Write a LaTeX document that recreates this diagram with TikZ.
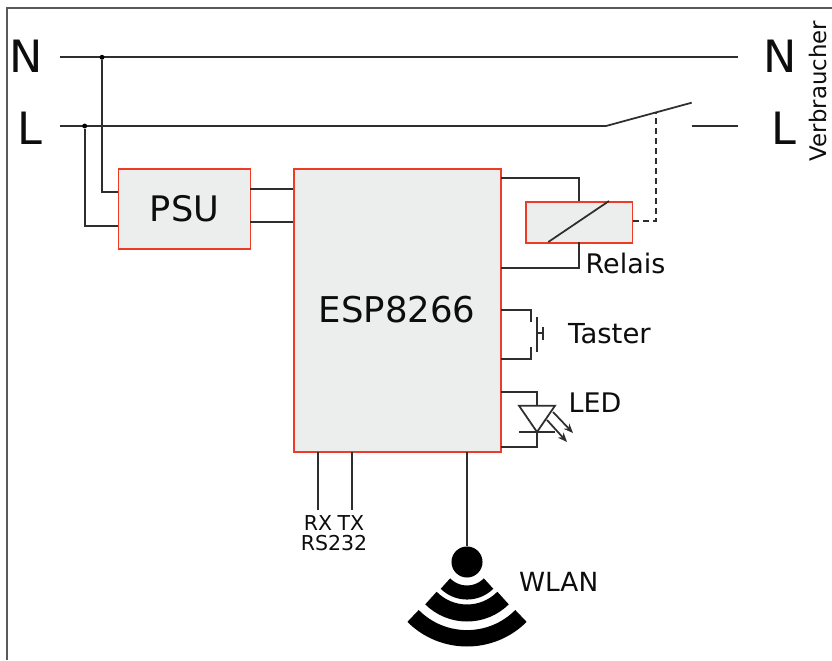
\documentclass[tikz,border=0pt]{standalone}
\usepackage{fontspec}
\setmainfont{DejaVu Sans}
\usetikzlibrary{arrows.meta}

\definecolor{blockred}{HTML}{EC3B26}
\definecolor{blockgray}{HTML}{ECEEEE}

\tikzset{
    block/.style={draw=blockred, fill=blockgray, line width=1.5pt, inner sep=0pt, anchor=north west},
    wire/.style={line width=1.5pt, black!82},
    lbl/.style={inner sep=0pt, text=black!95},
    wave/.style={line width=#1, black},
    dotnode/.style={circle, fill=black, inner sep=0pt, minimum size=4.2pt},
}

\begin{document}
\begin{tikzpicture}[x=0.03cm, y=0.03cm]
    \useasboundingbox (0,0) rectangle (832,660);
    % outer frame
    \draw[line width=1pt, black!65] (7,0) -- (7,652) -- (832,652);

    % mains
    \node[lbl, font=\fontsize{38}{38}\selectfont] (nleft) at (26,603.5) {N};
    \node[lbl, font=\fontsize{38}{38}\selectfont] (lleft) at (29.5,532) {L};
    \node[lbl, font=\fontsize{38}{38}\selectfont] (nright) at (780,603.5) {N};
    \node[lbl, font=\fontsize{38}{38}\selectfont] (lright) at (783.5,532) {L};
    \node[lbl, rotate=90, font=\fontsize{19.5}{19.5}\selectfont] (load) at (818,569) {Verbraucher};

    \coordinate (nstart) at (60,602.7);
    \coordinate (nend) at (738,602.7);
    \coordinate (lstart) at (60,534);
    \coordinate (swa) at (606,534);
    \coordinate (swb) at (691.7,557.3);
    \coordinate (swc) at (691.7,534);
    \coordinate (lend) at (738,534);
    \draw[wire] (nstart) -- (nend);
    \draw[wire] (lstart) -- (swa) -- (swb);
    \draw[wire] (swc) -- (lend);

    % blocks
    \node[block, minimum width=112.7pt, minimum height=68pt] (psu) at (117.7,491.7) {};
    \node[lbl, font=\fontsize{30}{30}\selectfont] (psutext) at (184.5,451.6) {PSU};
    \node[block, minimum width=176.8pt, minimum height=241.4pt] (esp) at (293.3,491.7) {};
    \node[lbl, font=\fontsize{30.3}{30.3}\selectfont] (esptext) at (397,350) {ESP8266};
    \node[block, minimum width=91pt, minimum height=35pt] (relay) at (525,459) {};

    % psu wiring
    \node[dotnode] (ndot) at (102,602.7) {};
    \node[dotnode] (ldot) at (84.7,534) {};
    \coordinate (psua) at (117.7,468.3);
    \coordinate (psub) at (117.7,434);
    \draw[wire] (ndot) |- (psua);
    \draw[wire] (ldot) |- (psub);
    \coordinate (pa) at (250.3,470.7);
    \coordinate (pb) at (293.3,470.7);
    \coordinate (pc) at (250.3,438.3);
    \coordinate (pd) at (293.3,438.3);
    \draw[wire] (pa) -- (pb);
    \draw[wire] (pc) -- (pd);

    % relay
    \coordinate (ra) at (501.3,482.3);
    \coordinate (rb) at (579,459);
    \coordinate (rc) at (501.3,392.3);
    \coordinate (rd) at (579,418);
    \coordinate (re) at (548.3,418);
    \coordinate (rf) at (609,459);
    \coordinate (rg) at (633,439);
    \coordinate (rh) at (655.7,439);
    \coordinate (ri) at (655.7,547.7);
    \draw[wire] (ra) -| (rb);
    \draw[wire] (rc) -| (rd);
    \draw[wire] (re) -- (rf);
    \draw[line width=1.5pt, black!82, dash pattern=on 5pt off 3.5pt] (rg) -- (rh) -- (ri);
    \node[lbl, font=\fontsize{23}{23}\selectfont] (relaytext) at (625.5,397) {Relais};

    % button
    \coordinate (ta) at (501.3,350);
    \coordinate (tb) at (530.7,350);
    \coordinate (tc) at (530.7,338.3);
    \coordinate (td) at (501.3,301);
    \coordinate (te) at (530.7,301);
    \coordinate (tf) at (530.7,313);
    \coordinate (tg) at (537,343);
    \coordinate (th) at (537,308.3);
    \coordinate (ti) at (537,327);
    \coordinate (tj) at (542.7,327);
    \coordinate (tk) at (542.7,320);
    \coordinate (tl) at (542.7,333);
    \draw[wire] (ta) -- (tb) -- (tc);
    \draw[wire] (td) -- (te) -- (tf);
    \draw[wire] (tg) -- (th);
    \draw[wire] (ti) -- (tj);
    \draw[wire] (tk) -- (tl);
    \node[lbl, font=\fontsize{23.5}{23.5}\selectfont] (tastertext) at (609.5,326.5) {Taster};

    % led
    \coordinate (la) at (501.3,268);
    \coordinate (lb) at (537,268);
    \coordinate (lc) at (537,254.3);
    \coordinate (ld) at (519,254.3);
    \coordinate (le) at (555,254.3);
    \coordinate (lf) at (537,228);
    \coordinate (lg) at (537,213.3);
    \coordinate (lh) at (501.3,213.3);
    \coordinate (li) at (519,228);
    \coordinate (lj) at (555,228);
    \coordinate (aa) at (553,248);
    \coordinate (ab) at (573,227);
    \coordinate (ac) at (547,240);
    \coordinate (ad) at (567,218);
    \draw[wire] (la) -- (lb) -- (lc);
    \draw[wire] (ld) -- (le) -- (lf) -- cycle;
    \draw[wire] (li) -- (lj);
    \draw[wire] (lf) -- (lg) -- (lh);
    \draw[wire, -{Stealth[length=8pt,width=6.5pt]}] (aa) -- (ab);
    \draw[wire, -{Stealth[length=8pt,width=6.5pt]}] (ac) -- (ad);
    \node[lbl, font=\fontsize{23}{23}\selectfont] (ledtext) at (595,257.5) {LED};

    % serial
    \coordinate (rxa) at (318,208);
    \coordinate (rxb) at (318,150);
    \coordinate (txa) at (352,208);
    \coordinate (txb) at (352,150);
    \draw[wire] (rxa) -- (rxb);
    \draw[wire] (txa) -- (txb);
    \node[lbl, font=\fontsize{17.5}{17.5}\selectfont] (serialtext) at (334,137) {RX\hspace{-1pt} TX};
    \node[lbl, font=\fontsize{17.5}{17.5}\selectfont] (rstext) at (334,117) {RS232};

    % wlan
    \coordinate (wa) at (467,208);
    \node[circle, fill=black, inner sep=0pt, minimum size=26.5pt] (wdot) at (467,98) {};
    \draw[wire] (wa) -- (wdot);
    \draw[wave=12pt] (wdot.center) ++(225:30.5) arc[start angle=225, end angle=315, radius=30.5];
    \draw[wave=14.5pt] (wdot.center) ++(225:51) arc[start angle=225, end angle=315, radius=51];
    \draw[wave=14pt] (wdot.center) ++(225:76.3) arc[start angle=225, end angle=315, radius=76.3];
    \node[lbl, font=\fontsize{22.5}{22.5}\selectfont] (wlantext) at (558.7,78.3) {WLAN};
\end{tikzpicture}
\end{document}
